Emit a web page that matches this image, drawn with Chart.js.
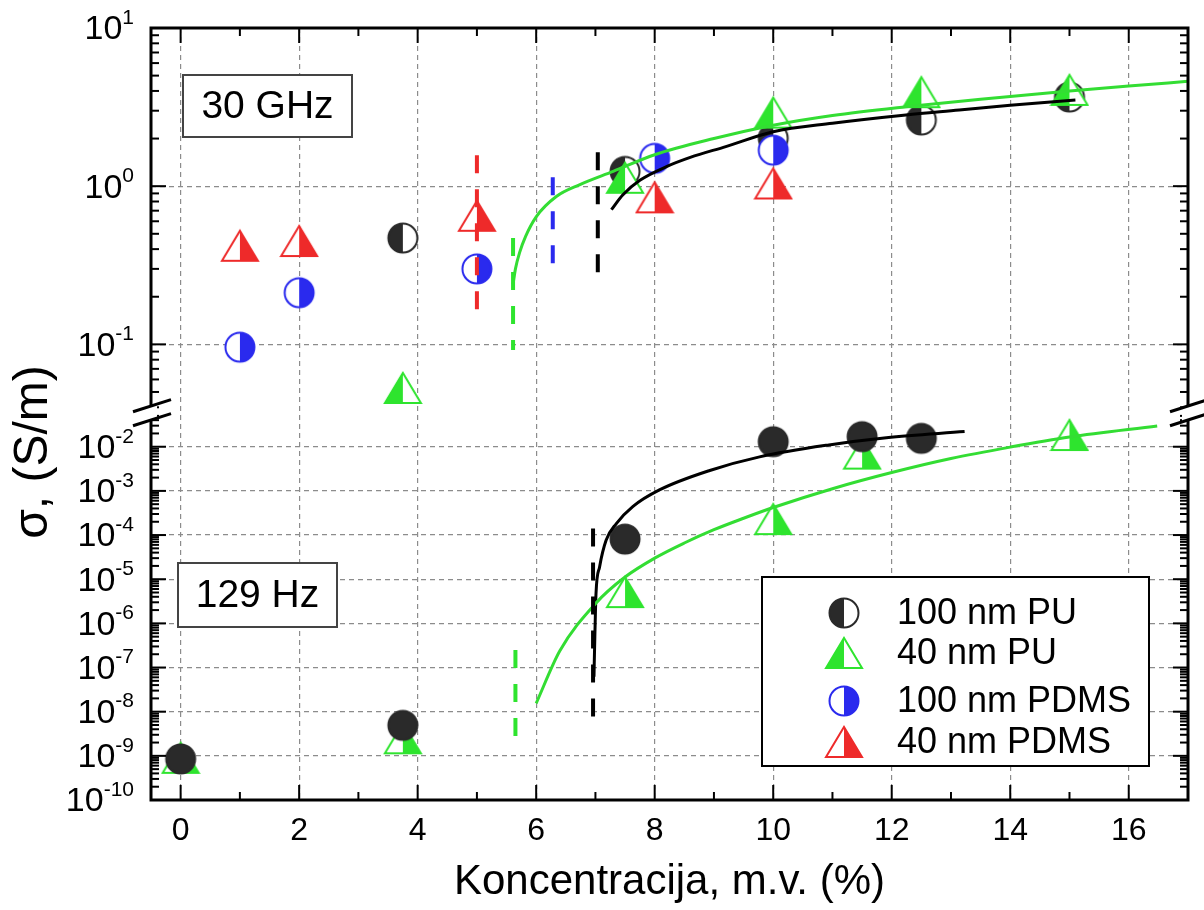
<!DOCTYPE html>
<html>
<head>
<meta charset="utf-8">
<title>Provodnost - koncentracija</title>
<script src="https://cdn.jsdelivr.net/npm/chart.js@4.4.1/dist/chart.umd.min.js"></script>
<style>
    html, body { margin: 0; padding: 0; background: #fff; }
    #wrap { width: 1204px; height: 910px; }
</style>
</head>
<body>
<div id="wrap"><canvas id="chart" width="1204" height="910"></canvas></div>
<script>
// ---- data: 30 GHz (upper panel) ----
const ghzPu100X = [3.75, 7.5, 10, 12.5, 15];
const ghzPu100 = [0.47, 1.24, 2.01, 2.62, 3.66];
const ghzPu40X = [3.75, 7.5, 10, 12.5, 15];
const ghzPu40 = [0.053, 1.13, 2.92, 3.93, 4.06];
const ghzPdms100X = [1, 2, 5, 8, 10];
const ghzPdms100 = [0.096, 0.212, 0.30, 1.50, 1.69];
const ghzPdms40X = [1, 2, 5, 8, 10];
const ghzPdms40 = [0.42, 0.45, 0.65, 0.85, 1.04];

// fitted curves, 30 GHz
const ghzFitPu40X = [5.61, 5.65, 5.72, 5.82, 6.0, 6.34, 6.73, 7.3, 8, 9, 10, 11, 12.24, 13.5, 15, 16, 17];
const ghzFitPu40 = [0.24, 0.3, 0.38, 0.48, 0.64, 0.86, 1.02, 1.24, 1.58, 2.0, 2.43, 2.8, 3.18, 3.55, 4.0, 4.3, 4.6];
const ghzFitPu100X = [7.27, 7.46, 7.75, 8.2, 8.6, 9.2, 10, 11, 12.24, 13.14, 14, 15.1];
const ghzFitPu100 = [0.71, 0.88, 1.09, 1.33, 1.52, 1.78, 2.21, 2.5, 2.82, 3.03, 3.25, 3.5];

// percolation thresholds, 30 GHz: PDMS 40, PU 40, PDMS 100, PU 100
const ghzCritX = [5.0, 5.61, 6.28, 7.04];
const ghzCritHi = [1.57, 0.47, 1.14, 1.64];
const ghzCritLo = [0.142, 0.092, 0.30, 0.28];

// ---- data: 129 Hz (lower panel) ----
const hzPu100X = [0, 3.75, 7.5, 10, 11.5, 12.5];
const hzPu100 = [8.5e-10, 4.9e-9, 8.1e-5, 0.013, 0.0169, 0.0155];
const hzPu40X = [0, 3.75, 7.5, 10, 11.5, 15];
const hzPu40 = [9e-10, 2.5e-9, 5.1e-6, 2.3e-4, 7.0e-3, 0.0184];

const hzFitPu100X = [6.975, 6.99, 7.01, 7.07, 7.18, 7.35, 7.63, 8.08, 8.93, 9.77, 10.94, 11.91, 13.23];
const hzFitPu100 = [6.2e-8, 4.9e-7, 4.8e-6, 1.9e-5, 7.6e-5, 1.8e-4, 4.4e-4, 1.05e-3, 2.9e-3, 5.9e-3, 0.011, 0.016, 0.022];
const hzFitPu40X = [6.0, 6.4, 7.0, 7.5, 8.0, 8.5, 9.0, 9.5, 10, 11, 12, 13, 14, 15, 16.48];
const hzFitPu40 = [1.55e-8, 2.4e-7, 2.8e-6, 1.12e-5, 3.0e-5, 6.6e-5, 1.32e-4, 2.4e-4, 4.2e-4,
    1.12e-3, 2.6e-3, 5.4e-3, 9.8e-3, 0.0166, 0.0295];

// thresholds, 129 Hz: PU 40, PU 100
const hzCritX = [5.65, 6.96];
const hzCritHi = [2.5e-7, 1.4e-4];
const hzCritLo = [2.0e-9, 4.5e-9];

// ---- axes ----
const xMajor = [0, 2, 4, 6, 8, 10, 12, 14, 16];
const xMinor = [1, 3, 5, 7, 9, 11, 13, 15];
const topExp = [1, 0, -1];
const botExp = [-2, -3, -4, -5, -6, -7, -8, -9, -10];

const legendLabels = ['100 nm PU', '40 nm PU', '100 nm PDMS', '40 nm PDMS'];

const FONT = "'Liberation Sans', Arial, sans-serif";
const DARK = '#2a2a2a';
const GREEN = '#2ee42e';
const BLUE = '#2a2aee';
const RED = '#ee2a2a';
const GRID = '#8c8c8c';

Chart.defaults.font.family = FONT;

// half filled markers
function makeCircle(color, half) {
    const c = document.createElement('canvas');
    c.width = c.height = 34;
    const g = c.getContext('2d');
    const r = 14.5;
    g.beginPath(); g.arc(17, 17, r, 0, 2 * Math.PI);
    g.fillStyle = half === 'full' ? color : '#fff'; g.fill();
    if (half !== 'full') {
        g.beginPath();
        if (half === 'left') g.arc(17, 17, r, Math.PI / 2, Math.PI * 1.5);
        else g.arc(17, 17, r, -Math.PI / 2, Math.PI / 2);
        g.closePath(); g.fillStyle = color; g.fill();
    }
    g.beginPath(); g.arc(17, 17, r, 0, 2 * Math.PI);
    g.lineWidth = 2; g.strokeStyle = color; g.stroke();
    return c;
}

function makeTriangle(color, half) {
    const c = document.createElement('canvas');
    c.width = 40; c.height = 36;
    const g = c.getContext('2d');
    const l = 2, r = 38, t = 3, b = 33, m = 20;
    g.beginPath(); g.moveTo(l, b); g.lineTo(m, t); g.lineTo(r, b); g.closePath();
    g.fillStyle = '#fff'; g.fill();
    g.beginPath();
    if (half === 'left') { g.moveTo(l, b); g.lineTo(m, t); g.lineTo(m, b); }
    else { g.moveTo(m, b); g.lineTo(m, t); g.lineTo(r, b); }
    g.closePath(); g.fillStyle = color; g.fill();
    g.beginPath(); g.moveTo(l, b); g.lineTo(m, t); g.lineTo(r, b); g.closePath();
    g.lineWidth = 2; g.strokeStyle = color; g.stroke();
    return c;
}

const mkPu100 = makeCircle(DARK, 'left');
const mkPu40 = makeTriangle(GREEN, 'left');
const mkPdms100 = makeCircle(BLUE, 'right');
const mkPdms40 = makeTriangle(RED, 'right');
const mkPu100Hz = makeCircle(DARK, 'full');
const mkPu40Hz = makeTriangle(GREEN, 'right');

const pts = (xs, ys) => xs.map((x, i) => ({ x: x, y: ys[i] }));

function markerSet(xs, ys, axis, img) {
    return { data: pts(xs, ys), yAxisID: axis, pointStyle: img, pointRadius: 15, showLine: false };
}
function curveSet(xs, ys, axis, color) {
    return {
        data: pts(xs, ys), yAxisID: axis, showLine: true, borderColor: color, borderWidth: 3,
        pointRadius: 0, cubicInterpolationMode: 'monotone', fill: false
    };
}
function dashSet(x, lo, hi, axis, color) {
    return {
        data: [{ x: x, y: hi }, { x: x, y: lo }], yAxisID: axis, showLine: true, borderColor: color,
        borderWidth: 4, borderDash: [18, 16], pointRadius: 0
    };
}

const ghzCritColors = [RED, GREEN, BLUE, '#000'];
const hzCritColors = [GREEN, '#000'];

const datasets = [
    ...ghzCritX.map((x, i) => dashSet(x, ghzCritLo[i], ghzCritHi[i], 'yTop', ghzCritColors[i])),
    ...hzCritX.map((x, i) => dashSet(x, hzCritLo[i], hzCritHi[i], 'yBot', hzCritColors[i])),
    curveSet(ghzFitPu40X, ghzFitPu40, 'yTop', '#33dd33'),
    curveSet(ghzFitPu100X, ghzFitPu100, 'yTop', '#000'),
    curveSet(hzFitPu40X, hzFitPu40, 'yBot', '#33dd33'),
    curveSet(hzFitPu100X, hzFitPu100, 'yBot', '#000'),
    markerSet(ghzPdms100X, ghzPdms100, 'yTop', mkPdms100),
    markerSet(ghzPu40X, ghzPu40, 'yTop', mkPu40),
    markerSet(ghzPu100X, ghzPu100, 'yTop', mkPu100),
    markerSet(ghzPdms40X, ghzPdms40, 'yTop', mkPdms40),
    markerSet(hzPu100X, hzPu100, 'yBot', mkPu100Hz),
    markerSet(hzPu40X, hzPu40, 'yBot', mkPu40Hz)
];

function line(ctx, x1, y1, x2, y2) {
    ctx.beginPath(); ctx.moveTo(x1, y1); ctx.lineTo(x2, y2); ctx.stroke();
}

function textBox(ctx, text, x1, y1, x2, y2) {
    ctx.fillStyle = '#fff';
    ctx.fillRect(x1, y1, x2 - x1, y2 - y1);
    ctx.lineWidth = 2; ctx.strokeStyle = '#444';
    ctx.strokeRect(x1, y1, x2 - x1, y2 - y1);
    ctx.fillStyle = '#000';
    ctx.font = '39px ' + FONT;
    ctx.textAlign = 'center'; ctx.textBaseline = 'middle';
    ctx.fillText(text, (x1 + x2) / 2, (y1 + y2) / 2 + 1);
}

// frame, inward ticks, superscript labels, axis break, boxes and legend
const overlay = {
    id: 'overlay',
    afterDraw(chart) {
        const ctx = chart.ctx;
        const a = chart.chartArea;
        const sx = chart.scales.x, st = chart.scales.yTop, sb = chart.scales.yBot;
        ctx.save();
        ctx.strokeStyle = '#000';
        ctx.lineWidth = 2;

        xMajor.forEach(v => {
            const p = sx.getPixelForValue(v);
            line(ctx, p, a.bottom, p, a.bottom - 15);
            line(ctx, p, a.top, p, a.top + 15);
        });
        xMinor.forEach(v => {
            const p = sx.getPixelForValue(v);
            line(ctx, p, a.bottom, p, a.bottom - 8);
            line(ctx, p, a.top, p, a.top + 8);
        });

        [st, sb].forEach(s => {
            const e0 = Math.floor(Math.log10(s.min)), e1 = Math.ceil(Math.log10(s.max));
            for (let e = e0; e <= e1; e++) {
                for (let m = 1; m <= 9; m++) {
                    const v = m * Math.pow(10, e);
                    if (v < s.min * 0.999 || v > s.max * 1.001) continue;
                    const p = s.getPixelForValue(v);
                    const len = m === 1 ? 15 : 8;
                    line(ctx, a.left, p, a.left + len, p);
                    line(ctx, a.right, p, a.right - len, p);
                }
            }
        });

        ctx.lineWidth = 3;
        ctx.strokeRect(a.left, a.top, a.right - a.left, a.bottom - a.top);

        // axis break
        const yb = st.bottom;
        const k = -0.32;
        [a.left, a.right].forEach(x => {
            const yu = dx => yb - 7 + dx * k;
            const yl = dx => yb + 7 + dx * k;
            ctx.fillStyle = '#fff';
            ctx.beginPath();
            ctx.moveTo(x - 6, yu(-6)); ctx.lineTo(x + 6, yu(6));
            ctx.lineTo(x + 6, yl(6)); ctx.lineTo(x - 6, yl(-6));
            ctx.closePath(); ctx.fill();
            ctx.lineWidth = 3; ctx.strokeStyle = '#000';
            line(ctx, x - 18, yu(-18), x + 20, yu(20));
            line(ctx, x - 18, yl(-18), x + 20, yl(20));
        });

        // y tick labels 10^n
        ctx.fillStyle = '#000';
        ctx.textBaseline = 'middle';
        ctx.textAlign = 'left';
        [[st, topExp], [sb, botExp]].forEach(([s, exps]) => exps.forEach(e => {
            const p = s.getPixelForValue(Math.pow(10, e));
            const sup = String(e);
            ctx.font = '21px ' + FONT;
            const wSup = ctx.measureText(sup).width;
            ctx.font = '34px ' + FONT;
            const wBase = ctx.measureText('10').width;
            ctx.fillText('10', 134 - wSup - wBase, p + 2);
            ctx.font = '21px ' + FONT;
            ctx.fillText(sup, 134 - wSup, p - 10);
        }));

        // y title
        ctx.save();
        ctx.translate(34, 452);
        ctx.rotate(-Math.PI / 2);
        ctx.font = '48px ' + FONT;
        ctx.textAlign = 'center';
        ctx.fillText('σ, (S/m)', 0, 0);
        ctx.restore();

        textBox(ctx, '30 GHz', 183, 75, 352, 137);
        textBox(ctx, '129 Hz', 178, 563, 337, 627);

        // legend
        ctx.fillStyle = '#fff';
        ctx.fillRect(762, 577, 387, 189);
        ctx.lineWidth = 2; ctx.strokeStyle = '#000';
        ctx.strokeRect(762, 577, 387, 189);
        const rows = [613, 653, 701, 742];
        const marks = [mkPu100, mkPu40, mkPdms100, mkPdms40];
        ctx.font = '36px ' + FONT;
        ctx.fillStyle = '#000';
        ctx.textAlign = 'left';
        ctx.textBaseline = 'middle';
        legendLabels.forEach((t, i) => {
            const img = marks[i];
            ctx.drawImage(img, 844 - img.width / 2, rows[i] - img.height / 2);
            ctx.fillText(t, 897, rows[i] + 1);
        });
        ctx.restore();
    }
};

new Chart(document.getElementById('chart'), {
    type: 'scatter',
    data: { datasets: datasets },
    options: {
        responsive: false,
        animation: false,
        devicePixelRatio: 1,
        layout: { padding: { top: 28, right: 16, left: 0, bottom: 0 } },
        plugins: { legend: { display: false }, tooltip: { enabled: false } },
        scales: {
            x: {
                type: 'linear',
                min: -0.5,
                max: 17,
                afterBuildTicks: s => { s.ticks = xMajor.map(v => ({ value: v })); },
                afterFit: s => { s.height = 110; },
                grid: { color: GRID, lineWidth: 1.2, drawTicks: false },
                border: { display: false, dash: [5, 4] },
                ticks: { color: '#000', font: { size: 32 }, padding: 12 },
                title: {
                    display: true,
                    text: 'Koncentracija, m.v. (%)',
                    color: '#000',
                    font: { size: 42 },
                    padding: { top: 0, bottom: 2 }
                }
            },
            yBot: {
                type: 'logarithmic',
                position: 'left',
                stack: 'sigma',
                stackWeight: 387,
                min: 1e-10,
                max: Math.pow(10, -1.236),
                afterBuildTicks: s => { s.ticks = botExp.map(e => ({ value: Math.pow(10, e) })); },
                afterFit: s => { s.width = 151; },
                ticks: { display: false },
                grid: { color: GRID, lineWidth: 1.2, drawTicks: false },
                border: { display: false, dash: [5, 4] }
            },
            yTop: {
                type: 'logarithmic',
                position: 'left',
                stack: 'sigma',
                stackWeight: 385,
                min: Math.pow(10, -1.434),
                max: 10,
                afterBuildTicks: s => { s.ticks = topExp.map(e => ({ value: Math.pow(10, e) })); },
                afterFit: s => { s.width = 151; },
                ticks: { display: false },
                grid: { color: GRID, lineWidth: 1.2, drawTicks: false },
                border: { display: false, dash: [5, 4] }
            }
        }
    },
    plugins: [overlay]
});
</script>
</body>
</html>
